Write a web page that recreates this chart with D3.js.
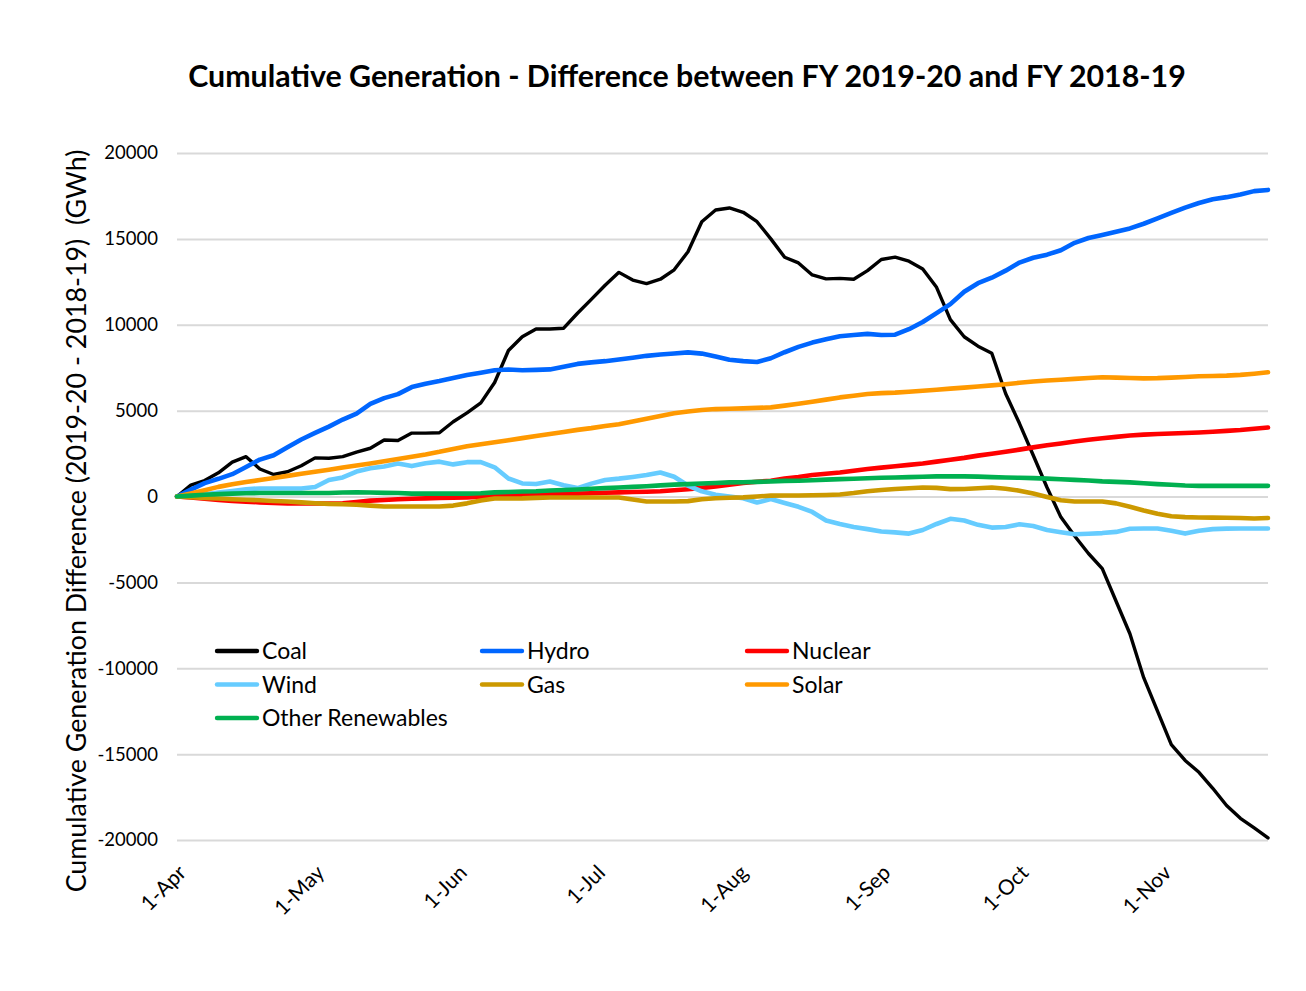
<!DOCTYPE html>
<html>
<head>
<meta charset="utf-8">
<script src="https://cdn.jsdelivr.net/npm/d3@7"></script>
<style>
  body { margin: 0; background: #fff; }
  text { font-family: Lato, "Open Sans", sans-serif; fill: #000; }
</style>
</head>
<body>
<svg id="chart"></svg>
<script>
// day offsets from 1-Apr-2019, one point every 3 days
const days = [0, 3, 6, 9, 12, 15, 18, 21, 24, 27,
  30, 33, 36, 39, 42, 45, 48, 51, 54, 57,
  60, 63, 66, 69, 72, 75, 78, 81, 84, 87,
  90, 93, 96, 99, 102, 105, 108, 111, 114, 117,
  120, 123, 126, 129, 132, 135, 138, 141, 144, 147,
  150, 153, 156, 159, 162, 165, 168, 171, 174, 177,
  180, 183, 186, 189, 192, 195, 198, 201, 204, 207,
  210, 213, 216, 219, 222, 225, 228, 231, 234, 237]

const coal = [0, 660, 930, 1380, 2000, 2320, 1600, 1280, 1440, 1790,
  2250, 2230, 2320, 2590, 2810, 3290, 3260, 3690, 3690, 3710,
  4350, 4870, 5450, 6640, 8500, 9300, 9750, 9750, 9800, 10670,
  11480, 12300, 13050, 12600, 12400, 12650, 13200, 14250, 16000, 16680,
  16800, 16550, 16000, 15000, 13930, 13600, 12900, 12670, 12700, 12650,
  13150, 13800, 13940, 13700, 13250, 12180, 10300, 9300, 8750, 8340,
  6000, 4260, 2400, 525, -1200, -2300, -3320, -4200, -6100, -7990,
  -10550, -12500, -14450, -15370, -16060, -16990, -17990, -18740, -19300, -19880]

const hydro = [0, 400, 780, 1030, 1300, 1720, 2150, 2400, 2870, 3320,
  3700, 4070, 4480, 4830, 5390, 5730, 5960, 6370, 6560, 6720,
  6900, 7070, 7210, 7350, 7390, 7350, 7370, 7400, 7560, 7720,
  7810, 7880, 7980, 8080, 8190, 8270, 8330, 8390, 8320, 8150,
  7960, 7880, 7830, 8050, 8400, 8710, 8960, 9150, 9330, 9400,
  9470, 9400, 9420, 9740, 10160, 10680, 11200, 11920, 12420, 12740,
  13150, 13620, 13900, 14080, 14340, 14770, 15050, 15230, 15420, 15610,
  15880, 16200, 16510, 16820, 17090, 17310, 17430, 17580, 17780, 17850]

const nuclear = [0, -60, -130, -200, -260, -300, -340, -370, -400, -410,
  -410, -410, -400, -320, -240, -200, -160, -130, -110, -90,
  -70, -50, -10, 20, 60, 80, 100, 130, 150, 170,
  190, 220, 240, 260, 280, 310, 360, 420, 500, 590,
  690, 790, 860, 920, 1050, 1140, 1250, 1320, 1400, 1500,
  1600, 1680, 1760, 1840, 1920, 2030, 2140, 2250, 2380, 2490,
  2610, 2730, 2860, 2980, 3090, 3200, 3300, 3390, 3470, 3550,
  3600, 3640, 3670, 3700, 3730, 3770, 3820, 3870, 3940, 4020]

const wind = [0, 60, 130, 230, 320, 420, 470, 470, 470, 470,
  550, 960, 1110, 1450, 1650, 1750, 1920, 1770, 1940, 2030,
  1870, 2000, 2000, 1700, 1050, 760, 730, 870, 660, 490,
  750, 960, 1040, 1140, 1250, 1400, 1150, 640, 300, 100,
  0, -100, -350, -150, -380, -600, -900, -1400, -1600, -1780,
  -1900, -2040, -2090, -2160, -1950, -1600, -1300, -1400, -1650, -1810,
  -1780, -1620, -1720, -1950, -2080, -2200, -2170, -2130, -2060, -1880,
  -1860, -1860, -2000, -2160, -1990, -1900, -1870, -1860, -1860, -1860]

const gas = [0, -40, -80, -120, -160, -190, -220, -260, -290, -340,
  -390, -430, -450, -480, -530, -580, -580, -580, -580, -580,
  -530, -400, -230, -120, -120, -110, -80, -60, -60, -60,
  -60, -60, -60, -170, -290, -290, -290, -270, -160, -100,
  -70, -50, 0, 50, 60, 60, 70, 90, 120, 200,
  310, 380, 440, 480, 520, 500, 430, 440, 480, 520,
  450, 340, 170, -30, -220, -290, -290, -290, -400, -600,
  -810, -1000, -1150, -1200, -1220, -1230, -1240, -1250, -1280, -1250]

const solar = [0, 180, 370, 560, 710, 840, 960, 1080, 1200, 1320,
  1440, 1560, 1690, 1800, 1920, 2050, 2180, 2320, 2450, 2600,
  2770, 2920, 3040, 3160, 3280, 3400, 3520, 3640, 3760, 3880,
  3980, 4100, 4210, 4370, 4530, 4690, 4850, 4950, 5040, 5090,
  5110, 5130, 5160, 5190, 5290, 5400, 5520, 5640, 5770, 5870,
  5970, 6020, 6050, 6100, 6160, 6220, 6280, 6340, 6400, 6470,
  6540, 6620, 6700, 6750, 6800, 6850, 6900, 6940, 6920, 6900,
  6880, 6890, 6920, 6960, 7000, 7020, 7040, 7080, 7150, 7230]

const otherRenewables = [0, 50, 100, 140, 170, 190, 200, 200, 200, 200,
  200, 200, 230, 240, 230, 210, 200, 170, 170, 170,
  170, 170, 190, 240, 260, 290, 310, 350, 380, 410,
  450, 490, 520, 560, 600, 650, 690, 720, 760, 790,
  820, 830, 850, 880, 910, 920, 950, 980, 1010, 1030,
  1060, 1090, 1110, 1130, 1150, 1170, 1180, 1170, 1160, 1130,
  1110, 1090, 1070, 1040, 1000, 970, 930, 880, 850, 820,
  770, 720, 680, 640, 620, 620, 620, 620, 620, 620]

const seriesNames = ['Coal', 'Hydro', 'Nuclear', 'Wind', 'Gas', 'Solar', 'Other Renewables']
const seriesValues = [coal, hydro, nuclear, wind, gas, solar, otherRenewables]
const seriesColors = ['#000000', '#0066ff', '#ff0000', '#66ccff', '#cc9900', '#ff9900', '#00b050']

const monthStarts = [0, 30, 61, 91, 122, 153, 183, 214]
const monthLabels = ['1-Apr', '1-May', '1-Jun', '1-Jul', '1-Aug', '1-Sep', '1-Oct', '1-Nov']
const yTicks = [-20000, -15000, -10000, -5000, 0, 5000, 10000, 15000, 20000]

let svgWidth = 1306, svgHeight = 991
let plotLeft = 177, plotRight = 1268, plotTop = 153, plotBottom = 840

let svg = d3.select('#chart').attr('width', svgWidth).attr('height', svgHeight)

let x = d3.scaleLinear().domain([0, 237]).range([plotLeft, plotRight])
let y = d3.scaleLinear().domain([-20000, 20000]).range([plotBottom, plotTop])

// squeeze a text to the width it has in the picture
function fitWidth(sel, w){
  let len = sel.node().getComputedTextLength()
  sel.attr('font-size', parseFloat(sel.attr('font-size')) * w / len)
}

// gridlines + y labels
let yAxis = svg.append('g')
  .attr('transform', `translate(${plotLeft},0)`)
  .call(d3.axisLeft(y).tickValues(yTicks).tickSize(-(plotRight - plotLeft)).tickPadding(19).tickFormat(d => String(d)))
yAxis.select('.domain').remove()
yAxis.selectAll('line').attr('stroke', '#d9d9d9').attr('stroke-width', 2)
yAxis.selectAll('text').attr('font-size', 18.5).attr('font-family', 'Lato').attr('fill', '#000')

// x labels, rotated
let xAxis = svg.append('g')
  .attr('transform', `translate(0,${plotBottom})`)
  .call(d3.axisBottom(x).tickValues(monthStarts).tickSize(0).tickFormat((d, i) => monthLabels[i]))
xAxis.select('.domain').remove()
xAxis.selectAll('text')
  .attr('font-size', 21).attr('font-family', 'Lato').attr('fill', '#000')
  .attr('text-anchor', 'end')
  .attr('dy', 0).attr('y', 0)
  .attr('transform', 'translate(10,34) rotate(-45)')

// lines
let line = d3.line().x((d, i) => x(days[i])).y(d => y(d))
svg.append('g').selectAll('path').data(seriesValues).enter().append('path')
  .attr('d', line)
  .attr('fill', 'none')
  .attr('stroke', (d, i) => seriesColors[i])
  .attr('stroke-width', (d, i) => i == 0 ? 3.4 : 4.6)
  .attr('stroke-linejoin', 'round')
  .attr('stroke-linecap', 'round')

// legend, 3 columns
let legend = svg.append('g')
let items = legend.selectAll('g').data(seriesNames).enter().append('g')
  .attr('transform', (d, i) => `translate(${217 + (i % 3) * 265},${651 + Math.floor(i / 3) * 33.5})`)
items.append('line')
  .attr('x1', 0).attr('x2', 40).attr('y1', 0).attr('y2', 0)
  .attr('stroke', (d, i) => seriesColors[i])
  .attr('stroke-width', 4.4).attr('stroke-linecap', 'round')
items.append('text')
  .attr('x', 45).attr('y', 0).attr('dy', '0.35em')
  .attr('font-size', 23)
  .text(d => d)

// titles
let title = svg.append('text')
  .attr('x', 687).attr('y', 87)
  .attr('text-anchor', 'middle')
  .attr('font-size', 26).attr('font-weight', 'bold')
  .text('Cumulative Generation - Difference between FY 2019-20 and FY 2018-19')
fitWidth(title, 998)

let yTitle = svg.append('text')
  .attr('transform', 'translate(86,521) rotate(-90)')
  .attr('text-anchor', 'middle')
  .attr('font-size', 22)
  .text('Cumulative Generation Difference (2019-20 - 2018-19)  (GWh)')
  .style('white-space', 'pre')
fitWidth(yTitle, 743)
</script>
</body>
</html>
